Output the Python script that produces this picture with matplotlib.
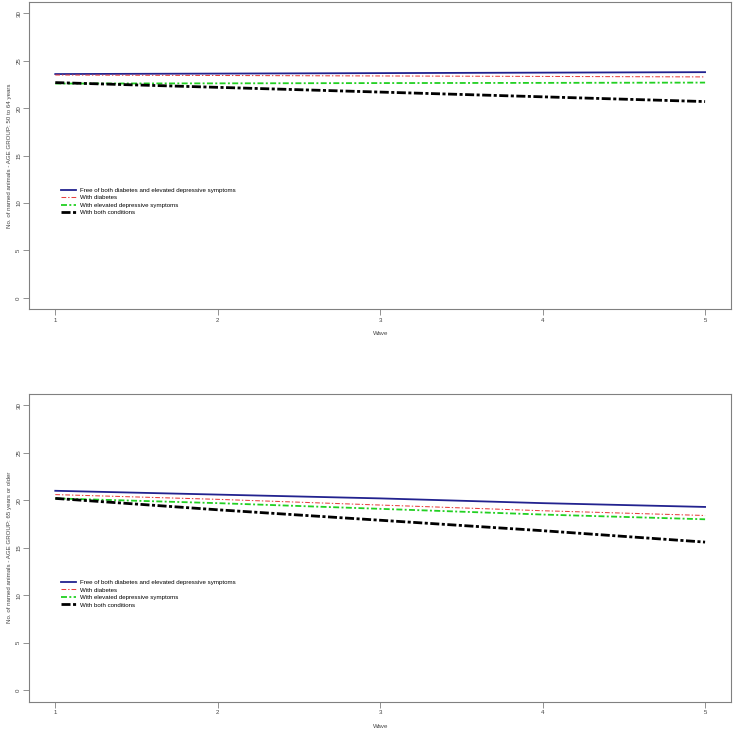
import matplotlib
matplotlib.use("Agg")
import matplotlib.pyplot as plt

plt.rcParams["font.family"] = ["Liberation Sans", "DejaVu Sans"]
plt.rcParams["lines.scale_dashes"] = False

waves = [1, 2, 3, 4, 5]
labels = [
    "Free of both diabetes and elevated depressive symptoms",
    "With diabetes",
    "With elevated depressive symptoms",
    "With both conditions",
]

# age group 50 to 64
young_free = [23.6, 23.65, 23.7, 23.75, 23.8]
young_diab = [23.5, 23.45, 23.4, 23.35, 23.3]
young_dep = [22.6, 22.62, 22.65, 22.67, 22.7]
young_both = [22.7, 22.2, 21.7, 21.2, 20.7]

# age group 65 or older
old_free = [21.0, 20.6, 20.2, 19.7, 19.3]
old_diab = [20.6, 20.1, 19.5, 18.9, 18.4]
old_dep = [20.2, 19.7, 19.1, 18.5, 18.0]
old_both = [20.2, 19.0, 17.9, 16.8, 15.6]

ylabels = [
    "No. of named animals - AGE GROUP: 50 to 64 years",
    "No. of named animals - AGE GROUP: 65 years or older",
]

styles = [
    dict(color="#22228f", lw=1.3, ls="-"),
    dict(color="#e84040", lw=0.75, ls=(0, (3.4, 1.4, 1.0, 1.4))),
    dict(color="#22d022", lw=1.3, ls=(0, (4.3, 1.7, 1.4, 1.7))),
    dict(color="black", lw=2.0, ls=(0, (6.5, 1.8, 2.2, 1.8))),
]

fig = plt.figure(figsize=(7.36, 7.32), dpi=100)
ax1 = fig.add_axes([0.0398, 0.5775, 0.9535, 0.4198])
ax2 = fig.add_axes([0.0398, 0.0414, 0.9535, 0.4205])

fs = 4.45
grey = "#808080"
panels = [
    (ax1, [young_free, young_diab, young_dep, young_both], ylabels[0]),
    (ax2, [old_free, old_diab, old_dep, old_both], ylabels[1]),
]
for ax, series, ylab in panels:
    for vals, st, lab in zip(series, styles, labels):
        ax.plot(waves, vals, color=st["color"], lw=st["lw"], ls=st["ls"], label=lab)
    ax.set_xlim(0.84, 5.16)
    ax.set_ylim(-1.2, 31.2)
    ax.set_xticks(waves)
    ax.set_yticks([0, 5, 10, 15, 20, 25, 30])
    for sp in ax.spines.values():
        sp.set_color(grey)
        sp.set_linewidth(0.8)
    ax.tick_params(colors=grey, labelcolor="#444444", labelsize=fs,
                   length=4.3, width=0.6)
    ax.tick_params(axis="y", labelrotation=90, pad=1.5)
    ax.tick_params(axis="x", pad=2)
    for t in ax.get_yticklabels():
        t.set_va("center")
    ax.set_xlabel("Wave", fontsize=fs, color="#444444", labelpad=6)
    ax.set_ylabel(ylab, fontsize=fs, color="#444444", labelpad=3)
    ax.legend(loc="upper left", bbox_to_anchor=(0.045, 0.396), frameon=False,
              fontsize=fs, handlelength=2.4, handletextpad=0.75,
              labelspacing=0.35, borderpad=0, borderaxespad=0)

fig.savefig("out.png", dpi=100)
